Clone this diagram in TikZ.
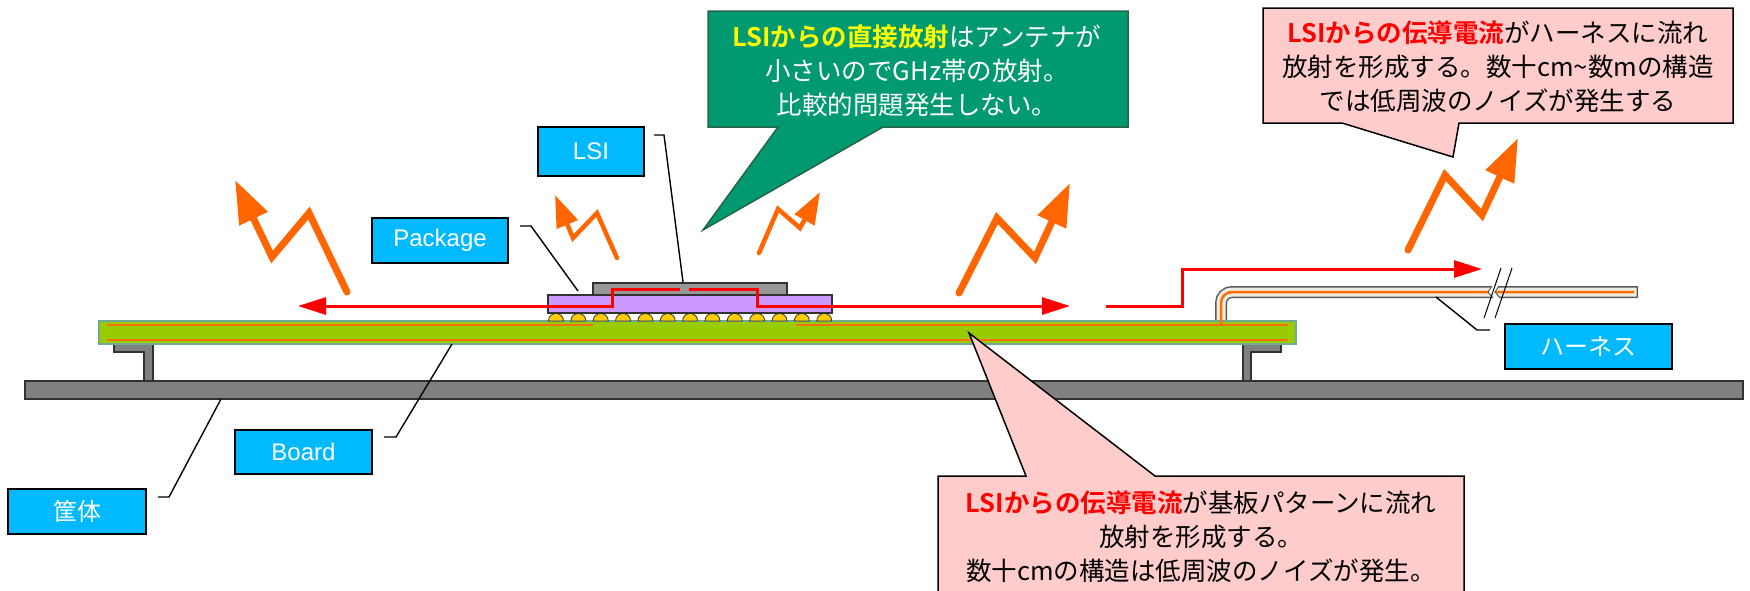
\documentclass[tikz,border=0pt]{standalone}
\usepackage{fontspec}
\setmainfont{Noto Sans CJK JP}[BoldFont={Noto Sans CJK JP Bold}]
\newfontfamily\latin{Liberation Sans}
\usetikzlibrary{arrows.meta}

\definecolor{tagblue}{RGB}{0,185,255}
\definecolor{boltor}{RGB}{255,102,0}
\definecolor{traceor}{RGB}{255,110,0}
\definecolor{metalgray}{RGB}{128,128,128}
\definecolor{darkedge}{RGB}{50,50,50}
\definecolor{boardgreen}{RGB}{153,204,0}
\definecolor{boardedge}{RGB}{110,170,150}
\definecolor{pkgpurple}{RGB}{204,153,255}
\definecolor{diegray}{RGB}{150,150,150}
\definecolor{ballyellow}{RGB}{255,204,0}
\definecolor{cablebeige}{RGB}{238,236,225}
\definecolor{cableedge}{RGB}{90,90,90}
\definecolor{calgreen}{RGB}{0,153,112}
\definecolor{calgreenedge}{RGB}{40,100,70}
\definecolor{calpink}{RGB}{255,204,204}
\definecolor{hiyellow}{RGB}{255,255,0}

\begin{document}
\begin{tikzpicture}[x=1pt,y=-1pt,
  tag/.style={draw=black, line width=2pt, fill=tagblue, text=white, inner sep=0pt,
              font=\fontsize{24}{28}\selectfont},
  lead/.style={draw=black, line width=1.4pt},
  bolt/.style={draw=boltor, line width=7pt, line cap=round, line join=miter,
               -{Triangle[length=43pt,width=30pt]}},
  smallbolt/.style={draw=boltor, line width=4.5pt, line cap=round, line join=miter,
               -{Triangle[length=32pt,width=22pt]}},
  current/.style={draw=red, line width=3pt, -{Triangle[length=28pt,width=17pt]}},
  trace/.style={draw=traceor, line width=2.5pt},
  metal/.style={fill=metalgray, draw=darkedge, line width=1.5pt},
  calltext/.style={align=center, font=\fontsize{25.5}{34}\selectfont}
]
\useasboundingbox (0,0) rectangle (1750,590);
\clip (0,0) rectangle (1750,590);

% chassis and mounting brackets
\filldraw[metal] (25,381) rectangle (1743,399);
\filldraw[metal] (114,344) -- (153,344) -- (153,381) -- (144,381) -- (144,352) -- (114,352) -- cycle;
\filldraw[metal] (1243,344) -- (1281,344) -- (1281,352) -- (1251,352) -- (1251,381) -- (1243,381) -- cycle;

% harness cable body
\draw[cableedge, line width=12pt, line cap=rect, rounded corners=11pt] (1221,326) -- (1221,292) -- (1632,292);
\draw[cablebeige, line width=9pt, line cap=rect, rounded corners=11pt] (1221,326) -- (1221,292) -- (1632,292);

% board with its wiring traces
\filldraw[fill=boardgreen, draw=boardedge, line width=1.5pt] (99,321) rectangle (1296,344);
\draw[trace] (107,325) -- (593,325);
\draw[trace] (796,325) -- (1288,325);
\draw[trace] (107,340) -- (1288,340);
\draw[trace, rounded corners=11pt] (1221,325) -- (1221,292) -- (1634,292);

% cable break
\fill[white] (1492,285) -- (1488,292) -- (1493,299) -- (1500,299) -- (1495,292) -- (1499,285) -- cycle;
\draw[cableedge, line width=1pt] (1492,286) -- (1488,292) -- (1493,298);
\draw[cableedge, line width=1pt] (1499,286) -- (1495,292) -- (1500,298);
\draw[black, line width=1pt] (1484,318) -- (1501,268);
\draw[black, line width=1pt] (1495,318) -- (1512,268);

% solder balls
\foreach \i in {0,...,12} {
  \pgfmathsetmacro\bx{556+22.35*\i}
  \filldraw[fill=ballyellow, draw=darkedge, line width=0.8pt]
    (\bx-7.5,321) .. controls (\bx-7.5,311) and (\bx+7.5,311) .. (\bx+7.5,321) -- cycle;
}

% package and die
\filldraw[fill=pkgpurple, draw=darkedge, line width=1.2pt] (548,295) rectangle (832,313);
\filldraw[fill=diegray, draw=darkedge, line width=1.2pt] (593,283) rectangle (787,295);

% conducted current paths
\draw[current] (680,289) -- (612,289) -- (612,306) -- (298,306);
\draw[current] (689,289) -- (757,289) -- (757,306) -- (1070,306);
\draw[current] (1106,306) -- (1182,306) -- (1182,269) -- (1482,269);

% radiation bolts
\draw[bolt] (347,292) -- (309,213) -- (272,257) -- (235,180);
\draw[smallbolt] (617,258) -- (597,213) -- (573,238) -- (555,195);
\draw[smallbolt] (759,253) -- (778,209) -- (800,228) -- (820,192);
\draw[bolt] (959,293) -- (997,218) -- (1035,258) -- (1070,183);
\draw[bolt] (1408,250) -- (1445,175) -- (1482,215) -- (1518,138);

% callouts
\filldraw[fill=calgreen, draw=calgreenedge, line width=1.5pt]
  (708,11) -- (1128,11) -- (1128,127) -- (883,127) -- (703,230) -- (778,127) -- (708,127) -- cycle;
\node[calltext, text=white] (direct) at (917,71)
  {{\bfseries\color{hiyellow}LSIからの直接放射}はアンテナが\\小さいのでGHz帯の放射。\\比較的問題発生しない。};

\filldraw[fill=calpink, draw=black, line width=1.5pt]
  (1263,8) -- (1733,8) -- (1733,123) -- (1459,123) -- (1453,157) -- (1342,123) -- (1263,123) -- cycle;
\node[calltext, text=black] (harnessnote) at (1498,67)
  {{\bfseries\color{red}LSIからの伝導電流}がハーネスに流れ\\放射を形成する。数十cm\textasciitilde 数mの構造\\では低周波のノイズが発生する};

\filldraw[fill=calpink, draw=black, line width=1.5pt]
  (938,476) -- (1026,476) -- (969,333) -- (1155,476) -- (1464,476) -- (1464,600) -- (938,600) -- cycle;
\node[calltext, text=black] (boardnote) at (1201,537)
  {{\bfseries\color{red}LSIからの伝導電流}が基板パターンに流れ\\放射を形成する。\\数十cmの構造は低周波のノイズが発生。};

% part labels
\node[tag, minimum width=106pt, minimum height=49pt] (lsi) at (591,151.5) {\latin LSI};
\node[tag, minimum width=136pt, minimum height=45pt] (pkg) at (440,240.5) {\latin Package};
\node[tag, minimum width=137pt, minimum height=44pt] (board) at (303.5,452) {\latin Board};
\node[tag, minimum width=138pt, minimum height=45pt] (case) at (77,511.5) {筐体};
\node[tag, minimum width=167pt, minimum height=45pt] (harness) at (1588.5,346.5) {ハーネス};

% leader targets
\coordinate (lsiPt) at (683,282);
\coordinate (pkgPt) at (578,291);
\coordinate (boardPt) at (452,344);
\coordinate (casePt) at (221,399);
\coordinate (harnessPt) at (1436,297);

\draw[lead] ([shift={(9,9)}]lsi.north east) -- ++(10,0) -- (lsiPt);
\draw[lead] ([shift={(11,9)}]pkg.north east) -- ++(11,0) -- (pkgPt);
\draw[lead] ([shift={(11,8)}]board.north east) -- ++(12,0) -- (boardPt);
\draw[lead] ([shift={(11,9)}]case.north east) -- ++(11,0) -- (casePt);
\draw[lead] ([shift={(-14,7)}]harness.north west) -- ++(-13,0) -- (harnessPt);
\end{tikzpicture}
\end{document}
